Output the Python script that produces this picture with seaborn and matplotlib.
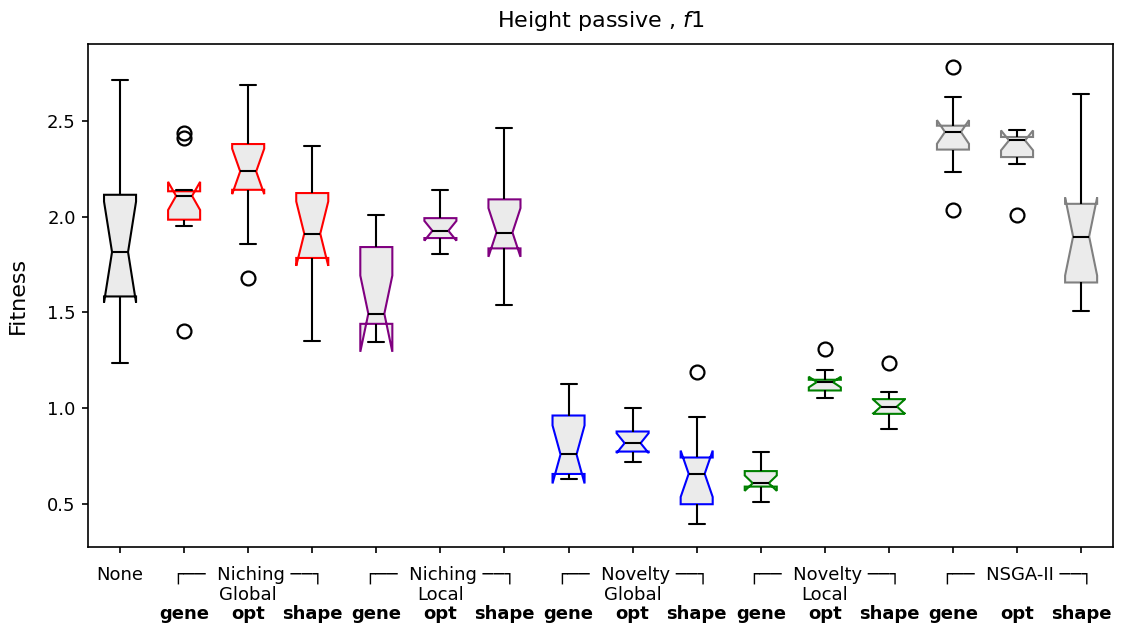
import matplotlib
matplotlib.use("Agg")
import matplotlib.pyplot as plt
import pandas as pd
import seaborn as sns

# Final fitness of the ten runs of every configuration
none_runs = [1.238, 1.490, 1.560, 1.652, 1.760, 1.870, 2.030, 2.142, 2.380, 2.715]

niching_global_gene = [1.400, 1.952, 1.975, 2.011, 2.104, 2.112, 2.112, 2.139, 2.411, 2.437]
niching_global_opt = [1.677, 1.857, 2.128, 2.176, 2.205, 2.267, 2.331, 2.395, 2.452, 2.686]
niching_global_shape = [1.348, 1.702, 1.771, 1.823, 1.880, 1.942, 2.051, 2.147, 2.230, 2.368]

niching_local_gene = [1.343, 1.402, 1.428, 1.476, 1.481, 1.505, 1.745, 1.873, 1.932, 2.006]
niching_local_opt = [1.805, 1.861, 1.880, 1.912, 1.918, 1.934, 1.968, 2.000, 2.046, 2.139]
niching_local_shape = [1.540, 1.795, 1.822, 1.870, 1.889, 1.945, 2.030, 2.110, 2.215, 2.463]

novelty_global_gene = [0.630, 0.641, 0.648, 0.680, 0.721, 0.795, 0.893, 0.984, 1.040, 1.126]
novelty_global_opt = [0.721, 0.752, 0.765, 0.797, 0.806, 0.828, 0.850, 0.887, 0.921, 1.000]
novelty_global_shape = [0.394, 0.470, 0.490, 0.522, 0.630, 0.684, 0.718, 0.750, 0.951, 1.188]

novelty_local_gene = [0.507, 0.571, 0.587, 0.599, 0.601, 0.615, 0.647, 0.679, 0.712, 0.770]
novelty_local_opt = [1.055, 1.079, 1.088, 1.104, 1.131, 1.141, 1.142, 1.150, 1.200, 1.308]
novelty_local_shape = [0.892, 0.951, 0.962, 0.994, 1.001, 1.015, 1.031, 1.052, 1.085, 1.235]

nsga_gene = [2.032, 2.231, 2.338, 2.386, 2.433, 2.451, 2.459, 2.480, 2.625, 2.782]
nsga_opt = [2.006, 2.275, 2.302, 2.338, 2.392, 2.404, 2.406, 2.419, 2.437, 2.454]
nsga_shape = [1.508, 1.612, 1.640, 1.704, 1.852, 1.940, 2.003, 2.088, 2.290, 2.641]

variants = ["gene", "opt", "shape"]
families = ["Niching Global", "Niching Local", "Novelty Global", "Novelty Local", "NSGA-II"]
family_heads = ["┌──  Niching ──┐", "┌──  Niching ──┐", "┌──  Novelty ──┐",
                "┌──  Novelty ──┐", "┌──  NSGA-II ──┐"]
family_scopes = ["Global", "Local", "Global", "Local", ""]
family_colors = ["red", "purple", "blue", "green", "grey"]
family_runs = [
    [niching_global_gene, niching_global_opt, niching_global_shape],
    [niching_local_gene, niching_local_opt, niching_local_shape],
    [novelty_global_gene, novelty_global_opt, novelty_global_shape],
    [novelty_local_gene, novelty_local_opt, novelty_local_shape],
    [nsga_gene, nsga_opt, nsga_shape],
]

# Long-form table: one row per run
rows = [("None", "None", v) for v in none_runs]
order = ["None"]
for fam, runs in zip(families, family_runs):
    for var, vals in zip(variants, runs):
        key = f"{fam} {var}"
        order.append(key)
        rows += [(fam, key, v) for v in vals]
df = pd.DataFrame(rows, columns=["family", "config", "fitness"])

sns.set_style("ticks", rc={"axes.edgecolor": "black", "xtick.color": "black",
                           "ytick.color": "black", "text.color": "black",
                           "axes.labelcolor": "black"})
plt.rcParams["font.family"] = ["DejaVu Sans"]
plt.rcParams["xtick.major.size"] = 4.4
plt.rcParams["ytick.major.size"] = 4.4
plt.rcParams["xtick.major.pad"] = 4.4
plt.rcParams["ytick.major.pad"] = 4.4
plt.rcParams["xtick.major.width"] = 1.2
plt.rcParams["ytick.major.width"] = 1.2
plt.rcParams["axes.linewidth"] = 1.2

fig, ax = plt.subplots(figsize=(11.21, 6.25), dpi=100)
fig.subplots_adjust(left=0.0785, right=0.993, bottom=0.1248, top=0.9296)

BOX_FILL = "#ebebeb"
LW = 1.5
FS = 13
common = dict(x="config", y="fitness", order=order, notch=True, width=0.5,
              color=BOX_FILL, saturation=1, linecolor="black", linewidth=LW,
              flierprops=dict(marker="o", markersize=10, markerfacecolor="none",
                              markeredgecolor="black", markeredgewidth=1.6),
              ax=ax)

sns.boxplot(data=df[df["family"] == "None"],
            boxprops=dict(edgecolor="black", joinstyle="miter"), **common)
for fam, col in zip(families, family_colors):
    sns.boxplot(data=df[df["family"] == fam],
                boxprops=dict(edgecolor=col, joinstyle="miter"), **common)

ax.set_xlim(-0.5, len(order) - 0.5)
ax.set_yticks([0.5, 1.0, 1.5, 2.0, 2.5])
ax.tick_params(axis="y", labelsize=FS)

# Category names are written below the ticks as three text rows
ax.set_xticks(range(len(order)))
ax.set_xticklabels([""] * len(order))
ax.set_xlabel("")

row1 = -23.8   # baselines in points below the axes
row2 = -37.8
row3 = -52.0


def put(text, x, dy, **kw):
    ax.annotate(text, xy=(x, 0), xycoords=("data", "axes fraction"),
                xytext=(0, dy), textcoords="offset points",
                ha="center", va="baseline", fontsize=FS, **kw)


put("None", 0, row1)
for k in range(len(families)):
    put(family_heads[k], 2 + 3 * k, row1)
    if family_scopes[k]:
        put(family_scopes[k], 2 + 3 * k, row2)
    for j, var in enumerate(variants):
        put(var, 1 + 3 * k + j, row3, fontweight="bold")

ax.set_ylabel("Fitness", fontsize=16, labelpad=14)
ax.set_title("Height passive , $f1$", fontsize=16, pad=12)

fig.savefig("out.png", dpi=100)
